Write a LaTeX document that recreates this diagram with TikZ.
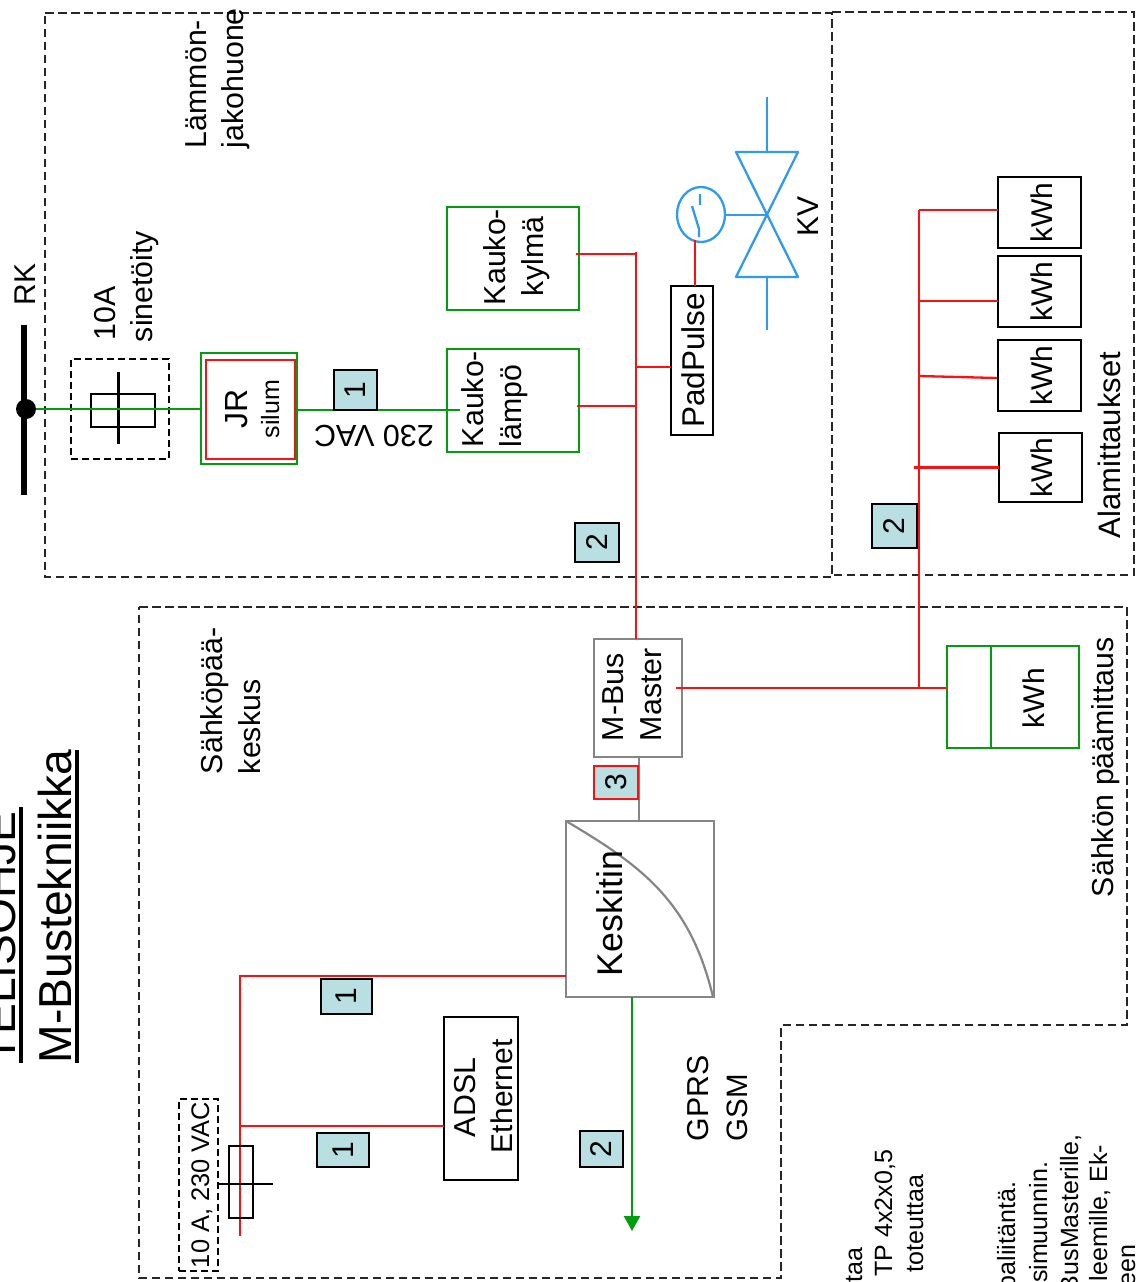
\documentclass[tikz,border=0pt]{standalone}
\usepackage{fontspec}
\setmainfont{Liberation Sans}
\usetikzlibrary{shapes.geometric,arrows.meta}
\definecolor{cred}{HTML}{FF1010}
\definecolor{cgreen}{HTML}{009E0F}
\definecolor{cgrey}{HTML}{858585}
\definecolor{cblue}{HTML}{2E9BEF}
\definecolor{cbadge}{HTML}{B9DFE3}
\newcommand{\szf}[1]{\fontsize{#1}{#1}\selectfont}
\tikzset{
  frameline/.style={draw=black!85,line width=2pt,dash pattern=on 8.5pt off 4.5pt},
  smalldash/.style={draw=black,line width=2.4pt,dash pattern=on 7pt off 4pt},
  redl/.style={draw=cred,line width=2.3pt},
  greenl/.style={draw=cgreen,line width=2.3pt},
  bluel/.style={draw=cblue,line width=2.3pt},
  greyl/.style={draw=cgrey,line width=2.6pt},
  blackbox/.style={draw=black,line width=2.5pt,inner sep=0,outer sep=0,rectangle},
  greenbox/.style={draw=cgreen,line width=2.5pt,inner sep=0,outer sep=0,rectangle},
  redbox/.style={draw=cred,line width=2.7pt,inner sep=0,outer sep=0,rectangle},
  greybox/.style={draw=cgrey,line width=2.8pt,inner sep=0,outer sep=0,rectangle},
  badge/.style={draw=black,line width=2.7pt,fill=cbadge,rotate=90,inner sep=0,outer sep=0,font=\szf{30}},
  txt/.style={rotate=90,inner sep=0,outer sep=0,anchor=base west,font=\szf{30.3}},
  txe/.style={rotate=90,inner sep=0,outer sep=0,anchor=base east,font=\szf{25}},
}
\begin{document}
\begin{tikzpicture}[x=1pt,y=-1pt]
\useasboundingbox (0,0) rectangle (1136,1282);
\clip (0,0) rectangle (1136,1282);
% frames
\draw[frameline] (45,13) -- (832,13) -- (832,577) -- (45,577) -- cycle;
\draw[frameline] (832,12) -- (1134,12) -- (1134,575) -- (832,575);
\draw[frameline] (139,607) -- (1127,607) -- (1127,1025) -- (781,1025) -- (781,1278) -- (139,1278) -- cycle;
% title
\node[txt,font=\szf{46.2}] (title1) at (15,1063) {TELISOHJE};
\node[txt,font=\szf{46.2}] (title2) at (71,1063) {M-Bustekniikka};
\draw[black,line width=4.5pt] (21,1063) -- (21,807);
\draw[black,line width=4.5pt] (77,1063) -- (77,750);
% supply
\draw[black,line width=6pt] (24,325) -- (24,495);
\node[circle,fill=black,inner sep=0,outer sep=0,minimum size=20pt] (rkdot) at (26,409) {};
\node[txt,font=\szf{30}] (rk) at (35,305) {RK};
\node[txt] (l10a) at (115,340) {10A};
\node[txt] (lsin) at (152.5,342) {sinetöity};
\node[rectangle,smalldash,inner sep=0,minimum width=98pt,minimum height=100pt] (fusebox) at (120,409) {};
\node[blackbox,minimum width=64pt,minimum height=33pt] (fuse1) at (123,410.5) {};
\draw[black,line width=2.2pt] (118.5,372) -- (118.5,444);
\node[greenbox,minimum width=96pt,minimum height=111pt] (jrg) at (249,408.5) {};
\node[redbox,minimum width=89pt,minimum height=99pt] (jrr) at (250.5,409.5) {};
\node[txt,anchor=base,font=\szf{32}] (ljr) at (247,409) {JR};
\node[txt,anchor=base,font=\szf{25}] (lsilum) at (279,409) {silum};
\coordinate (gend) at (460,410);
\draw[greenl] (rkdot) -- (jrg.west |- rkdot);
\draw[greenl] (jrg.east |- gend) -- (gend);
\node[badge,minimum width=40pt,minimum height=43pt] (b1a) at (355.5,390) {1};
\node[rotate=180,inner sep=0,font=\szf{30.5}] (l230) at (374,436) {230 VAC};
% heat boxes
\node[greenbox,minimum width=132pt,minimum height=103pt] (kk) at (513,258.5) {};
\node[greenbox,minimum width=132pt,minimum height=103pt] (kl) at (513,400.5) {};
\node[txt] (lkk1) at (505,305) {Kauko-};
\node[txt] (lkk2) at (543,296) {kylmä};
\node[txt] (lkl1) at (483,447) {Kauko-};
\node[txt] (lkl2) at (521,447) {lämpö};
\node[blackbox,minimum width=42pt,minimum height=149pt] (pad) at (692,360.5) {};
\node[txt,anchor=base,font=\szf{31.5}] (lpad) at (704,360.5) {PadPulse};
% bus 1
\coordinate (jtop) at (636,252);
\coordinate (kkend) at (576,254);
\coordinate (klend) at (577,406);
\coordinate (jpad) at (636,367);
\draw[redl] (kkend) -- (kkend -| jtop);
\draw[redl] (klend) -- (klend -| jtop);
\draw[redl] (jpad) -- (pad.west |- jpad);
\node[badge,minimum width=39pt,minimum height=44pt] (b2a) at (597,542.5) {2};
\node[greybox,minimum width=88pt,minimum height=118pt] (mbus) at (638,698) {};
\draw[redl] (jtop) -- (jtop |- mbus.north);
\node[txt] (lm1) at (623,741) {M-Bus};
\node[txt] (lm2) at (661,741) {Master};
% valve
\node[ellipse,draw=cblue,line width=2.3pt,inner sep=0,outer sep=0,minimum width=48pt,minimum height=55pt] (act) at (701,214.5) {};
\coordinate (vc) at (767,215);
\draw[redl,line width=2.7pt] (act.south -| 695,0) ++(0,-2) coordinate (actb) -- (actb |- pad.north);
\draw[bluel] (act.east |- vc) -- (vc);
\draw[bluel,line join=round] (736,152) -- (798,152) -- (736,277) -- (798,277) -- cycle;
\draw[bluel] (767,97) -- (767,152) (767,277) -- (767,330);
\draw[bluel] (700,194) -- (700,205) (692,206) -- (699,229) -- (699,237);
\node[txt,anchor=base,font=\szf{30}] (lkv) at (818,216.5) {KV};
\node[txt] (llam1) at (206,148) {Lämmön-};
\node[txt] (llam2) at (243,148) {jakohuone};
% sub meters
\node[blackbox,minimum width=83pt,minimum height=71pt] (m1) at (1039.5,212.5) {};
\node[blackbox,minimum width=83pt,minimum height=71pt] (m2) at (1039.5,291.5) {};
\node[blackbox,minimum width=83pt,minimum height=71pt] (m3) at (1039.5,375.5) {};
\node[blackbox,minimum width=83pt,minimum height=69pt] (m4) at (1040.5,467.5) {};
\foreach \nm/\yy in {a/212.5,b/291.5,c/375.5,d/467.5}
  \node[txt,anchor=base,font=\szf{30}] (kwh\nm) at (1052,\yy) {kWh};
\coordinate (b2top) at (919,210);
\coordinate (bj2) at (919,301);
\coordinate (bj3) at (919,376);
\coordinate (bj3e) at (997,378);
\coordinate (bj4) at (914,467.5);
\coordinate (bmain) at (919,688);
\draw[redl] (b2top) -- (bmain);
\draw[redl] (b2top) -- (m1.west |- b2top);
\draw[redl] (bj2) -- (m2.west |- bj2);
\draw[redl] (bj3) -- (bj3e);
\draw[redl] (bj4) -- (m4.west |- bj4);
\node[badge,minimum width=44pt,minimum height=45pt] (b2b) at (894.5,526) {2};
\node[txt,font=\szf{31}] (lalam) at (1120,538) {Alamittaukset};
% main meter
\node[greenbox,minimum width=132pt,minimum height=102pt] (mm) at (1013,697) {};
\draw[greenl,line width=2.4pt] (991,646) -- (991,748);
\node[txt,anchor=base,font=\szf{30}] (lkwh) at (1044,698) {kWh};
\coordinate (mbend) at (676,688);
\draw[redl] (mbend) -- (mm.west |- mbend);
\node[txt] (lsp) at (1113,897) {Sähkön päämittaus};
\node[txt] (ls1) at (222,774) {Sähköpää-};
\node[txt] (ls2) at (260,774) {keskus};
% hub
\node[greybox,minimum width=148pt,minimum height=176pt] (hub) at (640,909) {};
\draw[cgrey,line width=2.2pt] (566,821) .. controls (640,865) and (690,900) .. (713,997);
\node[txt,font=\szf{35.7}] (lhub) at (622,976) {Keskitin};
\draw[greyl] (mbus.south -| 639,0) coordinate (gt) -- (gt |- hub.north);
\node[redbox,fill=cbadge,rotate=90,font=\szf{30},minimum width=33pt,minimum height=44pt] (b3) at (616,782.5) {3};
% lower left
\node[blackbox,minimum width=74pt,minimum height=163pt] (adsl) at (481,1098.5) {};
\node[txt] (la1) at (475,1137) {ADSL};
\node[txt,font=\szf{30}] (la2) at (512,1153) {Ethernet};
\coordinate (rc) at (240,976);
\coordinate (rj) at (240,1126);
\coordinate (rend) at (240,1236);
\draw[redl,line join=miter] (hub.west |- rc) -- (rc) -- (rend);
\draw[redl] (rj) -- (adsl.west |- rj);
\node[badge,minimum width=35pt,minimum height=51pt] (b1b) at (346.5,996.5) {1};
\node[badge,minimum width=34pt,minimum height=52pt] (b1c) at (343,1150) {1};
\node[badge,minimum width=36pt,minimum height=43pt] (b2c) at (601.5,1149) {2};
\node[blackbox,fill=none,minimum width=24pt,minimum height=72pt] (fuse2) at (241,1182) {};
\draw[black,line width=2.2pt] (218,1184) -- (273,1184);
\node[rectangle,smalldash,inner sep=0,minimum width=39pt,minimum height=172pt] (fb2) at (198.5,1185) {};
\node[txt,font=\szf{25.4}] (l10b) at (209,1268) {10 A, 230 VAC};
\coordinate (aend) at (632,1231);
\draw[greenl,-{Triangle[length=15pt,width=16pt]}] (hub.south -| aend) -- (aend);
\node[txt] (lg1) at (708,1141) {GPRS};
\node[txt,font=\szf{29.5}] (lg2) at (747,1141) {GSM};
% cut-off text
\node[txe] (c1) at (862,1248) {taa};
\node[txe] (c2) at (892,1150) {TP 4x2x0,5};
\node[txe] (c3) at (923,1175) {toteuttaa};
\node[txe] (c4) at (1015,1182) {paliitäntä.};
\node[txe] (c5) at (1047,1162) {simuunnin.};
\node[txe] (c6) at (1078,1135) {BusMasterille,};
\node[txe] (c7) at (1107,1145) {leemille, Ek-};
\node[txe] (c8) at (1135,1245) {een};
\end{tikzpicture}
\end{document}
